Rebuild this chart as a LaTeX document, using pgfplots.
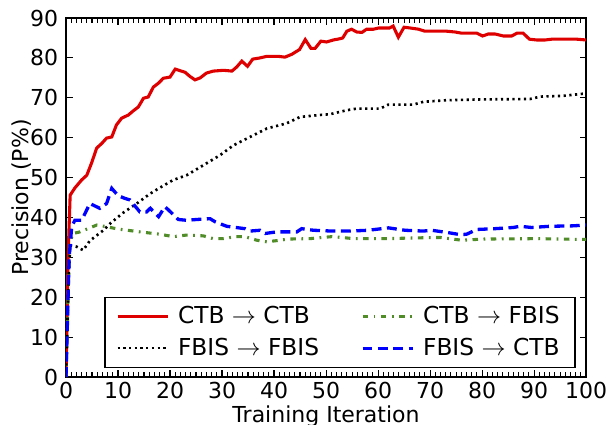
\documentclass[border=0pt]{standalone}
\usepackage{pgfplots}
\pgfplotsset{compat=1.18}
\usepackage{fontspec}
\setmainfont{DejaVu Sans}
\definecolor{cred}{RGB}{222,0,0}
\definecolor{cgreen}{RGB}{80,140,40}
\definecolor{cblue}{RGB}{0,0,255}

\begin{document}
\begin{tikzpicture}
\begin{axis}[
  scale only axis,
  width=236.4pt, height=163.2pt,
  xmin=0, xmax=100, ymin=0, ymax=90,
  xtick distance=10, ytick distance=10,
  minor x tick num=9,
  major tick length=3pt, minor tick length=2.2pt,
  tick style={black, line width=0.5pt},
  axis line style={line width=0.7pt},
  /pgf/number format/assume math mode=true,
  ticklabel style={font=\fontsize{10}{12}\selectfont},
  xlabel={Training Iteration},
  ylabel={Precision (P\%)},
  label style={font=\fontsize{10}{12}\selectfont},
  xlabel style={yshift=4pt},
  ylabel style={yshift=-7.5pt},
  xticklabel style={yshift=1pt},
  legend columns=2,
  legend cell align=left,
  legend style={at={(0.98,0.0255)}, anchor=south east, draw=black,
    line width=0.6pt, font=\fontsize{10.6}{12}\selectfont,
    inner xsep=5pt, inner ysep=2pt, row sep=1pt,
    /tikz/every odd column/.append style={column sep=2pt},
    /tikz/every even column/.append style={column sep=17pt}},
  legend image code/.code={\draw[#1] (0cm,0cm) -- (0.8cm,0cm);},
]
\coordinate (bl) at (rel axis cs:0,0);
\coordinate (tr) at (rel axis cs:1,1);

\addplot[cred, line width=1.4pt] coordinates {
(0,0) (0.4,30) (0.8,45.6) (1.7,47.4) (3,49.4) (4,50.6) (4.9,53.6) (5.9,57.4)
(6.9,58.6) (7.8,59.9) (8.8,60.2) (9.7,63.2) (10.7,64.9) (12,65.7) (12.9,66.7)
(13.9,67.7) (14.9,69.9) (15.8,70.2) (16.8,72.7) (17.8,73.7) (18.7,74.9) (20,75.2)
(21,77.2) (22.9,76.4) (23.8,75.4) (24.8,74.5) (25.8,75) (27,76.2) (28.3,76.7)
(30.3,76.9) (31.9,76.7) (32.8,77.7) (33.8,79.2) (34.9,77.9) (35.9,79.7) (37.3,80)
(38.6,80.4) (40.8,80.4) (42.1,80.2) (43.4,80.9) (44.9,82.1) (46,84.6) (47.1,82.4)
(47.9,82.4) (49,84.2) (50.1,84) (51.4,84.5) (52.6,84.8) (53.2,85) (54,86.7)
(54.9,87.2) (55.9,86.5) (56.9,86.4) (57.8,87.2) (59.1,87.2) (60.1,87.5) (62.2,87.5)
(62.9,88) (63.9,85.2) (65,87.7) (66.2,87.5) (67.8,87.2) (69,86.7) (73.2,86.7)
(74.8,86.5) (76.1,86.2) (79,86.2) (80.1,85.5) (81.2,86) (82.5,86) (84.1,85.5)
(85.7,85.5) (86.7,86.2) (87.9,86.2) (89.1,84.7) (90.5,84.5) (92.1,84.5) (93.4,84.7)
(98.2,84.7) (100,84.5)
};
\addlegendentry{CTB $\rightarrow$ CTB}

\addplot[cgreen, line width=1.4pt, dash pattern=on 2.5pt off 2.5pt on 0.8pt off 2.5pt] coordinates {
(0,0) (0.5,25) (0.8,34) (1.4,36) (2.7,36.4) (5.9,38.1) (7.8,37.7) (10,37.1)
(14.2,36.4) (18.1,35.8) (20.6,35.2) (23.2,35.6) (26.4,35.4) (28.3,34.7) (30.3,34.7)
(32.5,35.2) (34.4,35.2) (36.7,34.3) (38.6,33.9) (40.5,34.2) (42.8,34.6) (46.9,34.7)
(51.1,35.2) (53,35) (55.3,34.7) (61.7,34.7) (67.8,34.9) (71.9,35) (76.1,34.3)
(80.3,34.6) (90.8,34.7) (99.2,34.5) (100,34.5)
};
\addlegendentry{CTB $\rightarrow$ FBIS}

\addplot[black, line width=1.2pt, dash pattern=on 1pt off 1.6pt] coordinates {
(0,0) (0.5,25) (0.8,33) (2,32.7) (3.3,31.8) (4.6,34.2) (5.9,35.5) (7.2,36.8)
(8.5,38.5) (11,41.2) (13.6,43.5) (16.2,46) (18.1,47.5) (20.6,49.4) (23.2,50.6)
(26.4,53.1) (29.6,55.6) (32.2,58.1) (35.4,60.2) (38.6,62.3) (42.4,63.6) (45,65.2)
(48.8,65.7) (50.8,65.9) (54,66.9) (55.9,67.3) (60.4,67.3) (62,68.3) (66.8,68.3)
(68.7,69) (73.2,69.4) (79.6,69.6) (89.2,69.7) (91.2,70.3) (95.6,70.5) (100,71.1)
};
\addlegendentry{FBIS $\rightarrow$ FBIS}

\addplot[cblue, line width=1.5pt, dash pattern=on 4.5pt off 2.5pt] coordinates {
(0,0) (0.6,30) (1.1,37.7) (1.7,39.3) (3,39.3) (4.6,43.5) (6.5,42.3) (7.8,43.5)
(8.8,47.3) (10,45.5) (11.3,44.8) (12.3,44.4) (14.2,41.4) (15.5,41.4) (16.2,42.3)
(17.8,40.2) (19,42.7) (19.7,41.9) (21.6,39.5) (23.2,39.3) (25.1,39.5) (27.7,39.7)
(28.7,38.9) (30.9,37.8) (34.4,37.2) (35.4,36.6) (37.3,36.8) (38.3,36) (40.5,36.4)
(44.4,36.4) (45.3,37.2) (47.6,36.8) (51.1,36.6) (54.6,36.6) (58.1,36.8) (62,37.4)
(65.2,36.8) (68.7,36.6) (70.3,36.8) (73.5,36.2) (75.8,35.7) (77,35.8) (79,37)
(82.5,37.2) (86,37.5) (87.3,37.8) (89.5,37.5) (93.1,37.8) (97.3,37.9) (100,38.1)
};
\addlegendentry{FBIS $\rightarrow$ CTB}
\end{axis}
\pgfresetboundingbox
\path ([shift={(-30pt,-21.4pt)}]bl) rectangle ([shift={(9.5pt,8.2pt)}]tr);
\end{tikzpicture}
\end{document}
